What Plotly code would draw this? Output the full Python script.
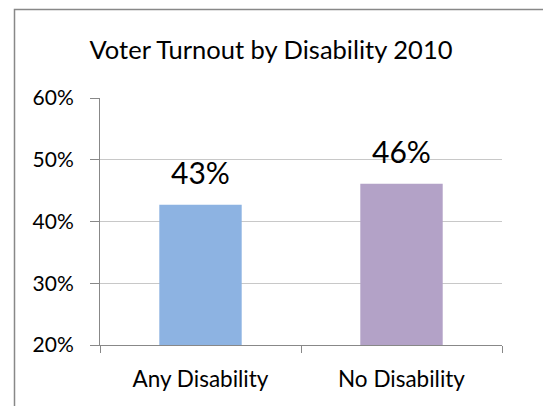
import plotly.graph_objects as go

categories = ["Any Disability", "No Disability"]
turnout = [42.7, 46.1]
labels = ["43%", "46%"]
colors = ["#8DB3E2", "#B3A2C7"]
y_ticks = [20, 30, 40, 50, 60]
y_tick_labels = ["20%", "30%", "40%", "50%", "60%"]

W, H = 544, 406
L, R, T, B = 100, 42, 98, 61
pw, ph = W - L - R, H - T - B

def px_x(p):
    return (p - L) / pw

def px_y(p):
    return (H - B - p) / ph

fig = go.Figure()
fig.add_trace(go.Bar(
    x=categories, y=turnout, marker=dict(color=colors, line=dict(width=0)),
    width=0.41, hoverinfo="skip"))

for c, v, t in zip(categories, turnout, labels):
    fig.add_annotation(x=c, y=v, text=t, showarrow=False, yanchor="bottom",
                       yshift=13, font=dict(size=30, color="#000000", family="Lato"))

# outer chart border as an open path (left and top edges only)
border_path = "M {x0},{y1} L {x0},{y0} L {x1},{y0}".format(
    x0=px_x(14.5), y0=px_y(9.5), y1=px_y(H + 5), x1=px_x(W - 1))
fig.add_shape(type="path", xref="paper", yref="paper", path=border_path,
              line=dict(color="#888888", width=1.5), fillcolor="rgba(0,0,0,0)")

fig.update_layout(
    width=W, height=H, margin=dict(l=L, r=R, t=T, b=B),
    paper_bgcolor="white", plot_bgcolor="white", showlegend=False,
    font=dict(family="Lato", color="#000000"),
    title=dict(text="Voter Turnout by Disability 2010", xref="container", x=271 / W,
               xanchor="center", yref="container", y=1 - 50 / H, yanchor="middle",
               font=dict(size=25.5, family="Lato")),
    bargap=0.59,
    xaxis=dict(showline=True, linecolor="#888888", linewidth=1,
               ticks="outside", ticklen=7, tickcolor="#888888", tickson="boundaries",
               tickfont=dict(size=22.5), ticklabelstandoff=14, showgrid=False,
               fixedrange=True),
    yaxis=dict(range=[20, 60], tickvals=y_ticks, ticktext=y_tick_labels,
               showline=True, linecolor="#888888", linewidth=1,
               ticks="outside", ticklen=9, tickcolor="#888888",
               showgrid=True, gridcolor="#C8C8C8", gridwidth=1,
               tickfont=dict(size=21), ticklabelstandoff=12, zeroline=False,
               fixedrange=True),
)
fig.write_html("out.html", config={"displayModeBar": False},
               post_script="document.documentElement.style.overflow='hidden';"
                           "document.body.style.margin='0';"
                           "document.body.style.overflow='hidden';")
